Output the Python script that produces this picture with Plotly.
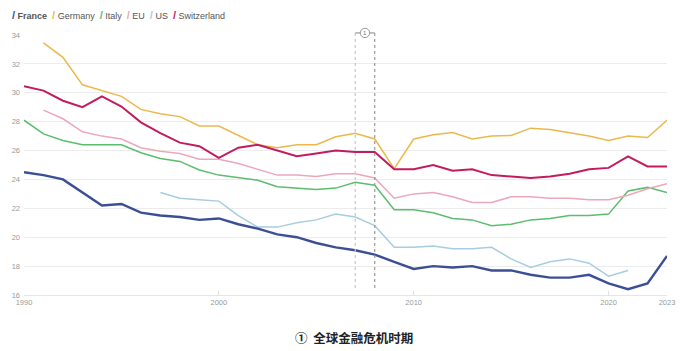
import plotly.graph_objects as go

years = list(range(1990, 2024))

france = [24.5, 24.3, 24.0, 23.1, 22.2, 22.3, 21.7, 21.5, 21.4, 21.2, 21.3, 20.9, 20.6, 20.2, 20.0, 19.6, 19.3, 19.1, 18.8, 18.3,
          17.8, 18.0, 17.9, 18.0, 17.7, 17.7, 17.4, 17.2, 17.2, 17.4, 16.8, 16.4, 16.8, 18.7]
germany = [None, 33.45, 32.45, 30.55, 30.15, 29.75, 28.85, 28.55, 28.35, 27.7, 27.7, 27.05, 26.4, 26.2, 26.4, 26.4, 26.95, 27.2, 26.8, 24.75,
           26.8, 27.1, 27.25, 26.8, 27.0, 27.05, 27.55, 27.45, 27.25, 27.0, 26.7, 27.0, 26.9, 28.1]
italy = [28.1, 27.15, 26.7, 26.4, 26.4, 26.4, 25.85, 25.45, 25.25, 24.65, 24.3, 24.1, 23.95, 23.5, 23.4, 23.3, 23.4, 23.8, 23.6, 21.9,
         21.9, 21.7, 21.3, 21.2, 20.8, 20.9, 21.2, 21.3, 21.5, 21.5, 21.6, 23.2, 23.45, 23.1]
eu = [None, 28.8, 28.2, 27.3, 27.0, 26.8, 26.2, 25.95, 25.8, 25.4, 25.4, 25.1, 24.7, 24.3, 24.3, 24.2, 24.4, 24.4, 24.1, 22.7,
      23.0, 23.1, 22.8, 22.4, 22.4, 22.8, 22.8, 22.7, 22.7, 22.6, 22.6, 22.9, 23.35, 23.7]
us = [None, None, None, None, None, None, None, 23.1, 22.7, 22.6, 22.5, 21.5, 20.7, 20.7, 21.0, 21.2, 21.6, 21.4, 20.8, 19.3,
      19.3, 19.4, 19.2, 19.2, 19.3, 18.5, 17.9, 18.3, 18.5, 18.2, 17.3, 17.7, None, None]
switzerland = [30.45, 30.15, 29.45, 29.0, 29.75, 29.05, 27.95, 27.2, 26.55, 26.3, 25.5, 26.2, 26.4, 26.0, 25.6, 25.8, 26.0, 25.9, 25.9, 24.7,
               24.7, 25.0, 24.6, 24.7, 24.3, 24.2, 24.1, 24.2, 24.4, 24.7, 24.8, 25.6, 24.9, 24.9]

series_names = ["France", "Germany", "Italy", "EU", "US", "Switzerland"]
series_values = [france, germany, italy, eu, us, switzerland]
colors = ["#3b4f96", "#ebb94b", "#5bbd6e", "#eba8b9", "#a8cde0", "#c21c5e"]
widths = [2.4, 1.5, 1.5, 1.5, 1.5, 2.0]

x_ticks = [1990, 2000, 2010, 2020, 2023]
y_ticks = [16, 18, 20, 22, 24, 26, 28, 30, 32, 34]
crisis_start, crisis_end = 2007, 2008
note_text = "①  全球金融危机时期"

fig = go.Figure()
order = [1, 2, 3, 4, 5, 0]
for i in order:
    fig.add_trace(go.Scatter(
        x=years, y=series_values[i], mode="lines", name=series_names[i],
        line=dict(color=colors[i], width=widths[i]), connectgaps=False,
        showlegend=False, hoverinfo="x+y+name"))

parts = []
for name, c in zip(series_names, colors):
    label = f"<b>{name}</b>" if name == "France" else name
    parts.append(f"<span style='color:{c};font-size:11px'><b>/</b></span> {label}")
legend_text = "  ".join(parts)
fig.add_annotation(x=-0.022, xref="paper", xanchor="left", y=1.077, yref="paper", yanchor="middle",
                   text=legend_text, showarrow=False,
                   font=dict(family="Liberation Sans, Arial, sans-serif", size=9, color="#555"))

mid = (crisis_start + crisis_end) / 2
top = 1.008
for xv, col in [(crisis_start, "#c8c8c8"), (crisis_end, "#999999")]:
    fig.add_shape(type="line", xref="x", yref="paper", x0=xv, x1=xv, y0=0.027, y1=top,
                  line=dict(color=col, width=1.2, dash="dot"))
fig.add_shape(type="line", xref="x", yref="paper", x0=crisis_start, x1=crisis_end, y0=top, y1=top,
              line=dict(color="#999", width=1.2))
fig.add_shape(type="circle", xref="x", yref="paper",
              x0=mid - 0.24, x1=mid + 0.24, y0=top - 0.018, y1=top + 0.018,
              fillcolor="white", line=dict(color="#999", width=1))
fig.add_annotation(x=mid, xref="x", y=top, yref="paper", text="1", showarrow=False,
                   font=dict(size=6, color="#777"), xanchor="center", yanchor="middle")

fig.add_annotation(x=0.5, xref="paper", xanchor="center", y=-0.165, yref="paper", yanchor="middle",
                   xshift=8, text=f"<b>{note_text}</b>", showarrow=False,
                   font=dict(family="Noto Sans CJK SC", size=12.5, color="#222"))

fig.update_layout(
    width=699, height=351,
    margin=dict(l=22, r=32, t=35, b=56),
    paper_bgcolor="white", plot_bgcolor="white",
    showlegend=False,
    font=dict(family="Liberation Sans, Arial, sans-serif"),
)
fig.update_xaxes(range=[1990, 2023], tickvals=x_ticks, ticktext=[str(t) for t in x_ticks],
                 showgrid=False, zeroline=False, showline=True, linecolor="#e6e6e6", linewidth=1,
                 ticks="inside", ticklen=4, tickcolor="#e0e0e0",
                 tickfont=dict(size=7.5, color="#999"))
fig.update_yaxes(range=[16, 34], tickvals=y_ticks, showgrid=True, gridcolor="#ececec", gridwidth=1,
                 zeroline=False, showline=False, ticks="", tickfont=dict(size=7.5, color="#999"),
                 ticklabelstandoff=3)

fig.write_html("out.html")
